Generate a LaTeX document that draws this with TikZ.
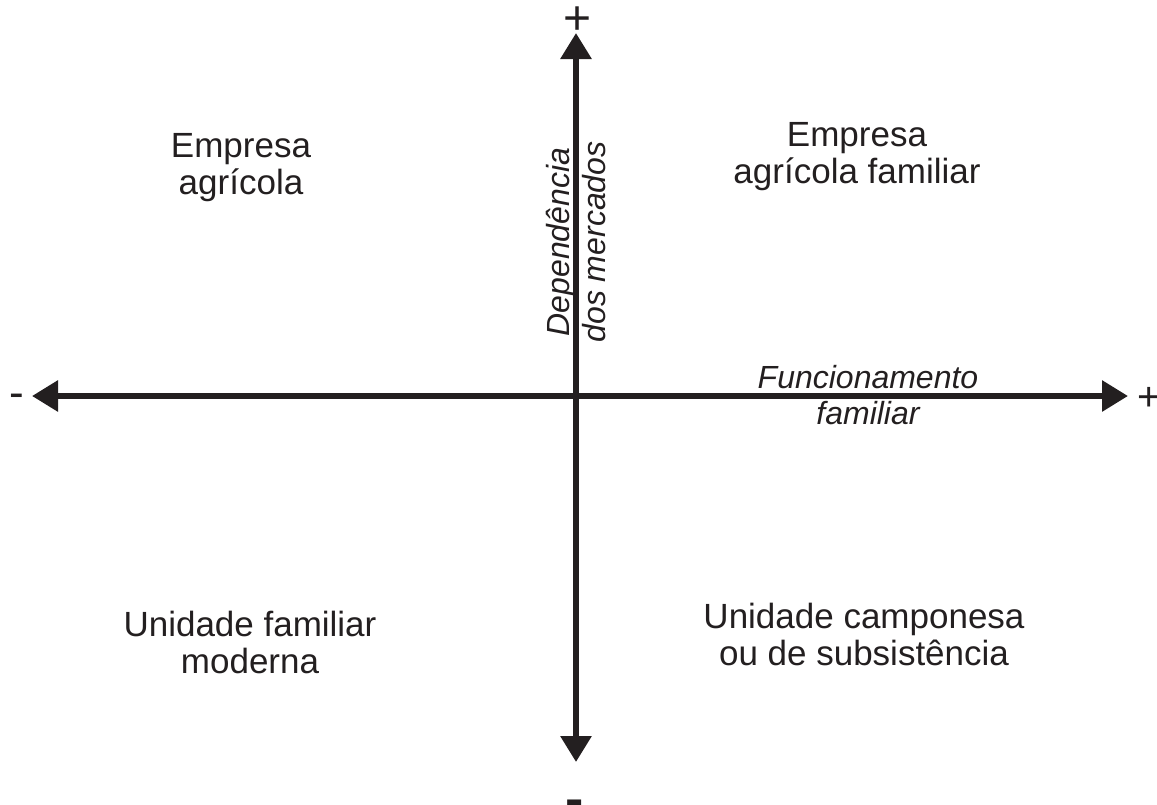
\documentclass[tikz,border=0pt]{standalone}
\usepackage{fontspec}
\setmainfont{Liberation Sans}
\usetikzlibrary{arrows.meta}
\definecolor{ink}{HTML}{231F20}
\tikzset{
  axis/.style={line width=6pt, draw=ink, {Triangle[length=26pt,width=30pt]}-{Triangle[length=26pt,width=30pt]}},
  quad/.style={align=center, text=ink, inner sep=0pt, font=\fontsize{35}{37}\selectfont},
  axlabel/.style={align=center, text=ink, inner sep=0pt, font=\fontsize{32}{36}\selectfont\itshape},
  sign/.style={text=ink, inner sep=0pt}
}

\begin{document}
\begin{tikzpicture}[x=1pt,y=-1pt]
        \useasboundingbox (0,0) rectangle (1157,804);
        % axes
        \coordinate (top) at (576,33);
        \coordinate (bottom) at (576,762);
        \coordinate (left) at (32,396);
        \coordinate (right) at (1128,396);
        \draw[axis] (left) -- (right);
        \draw[axis] (bottom) -- (top);
        % signs
        \node[sign, font=\fontsize{48}{48}\selectfont] (plustop) at (578,21) {+};
        \node[sign, font=\fontsize{40}{40}\selectfont] (plusright) at (1149,399) {+};
        \node[sign, font=\fontsize{44}{44}\selectfont] (minusleft) at (16.5,401) {-};
        \node[sign, font=\fontsize{55}{55}\selectfont\bfseries] (minusbottom) at (575,809) {-};
        % axis labels
        \node[axlabel, rotate=90] (dep) at (576,242) {Dependência\\dos mercados};
        \node[axlabel] (func) at (868,395) {Funcionamento\\familiar};
        % quadrants
        \node[quad] (eag) at (241,168) {Empresa\\agrícola};
        \node[quad] (eaf) at (857,157) {Empresa\\agrícola familiar};
        \node[quad] (ufm) at (250,642) {Unidade familiar\\moderna};
        \node[quad] (ucs) at (864,634) {Unidade camponesa\\ou de subsistência};
\end{tikzpicture}
\end{document}
